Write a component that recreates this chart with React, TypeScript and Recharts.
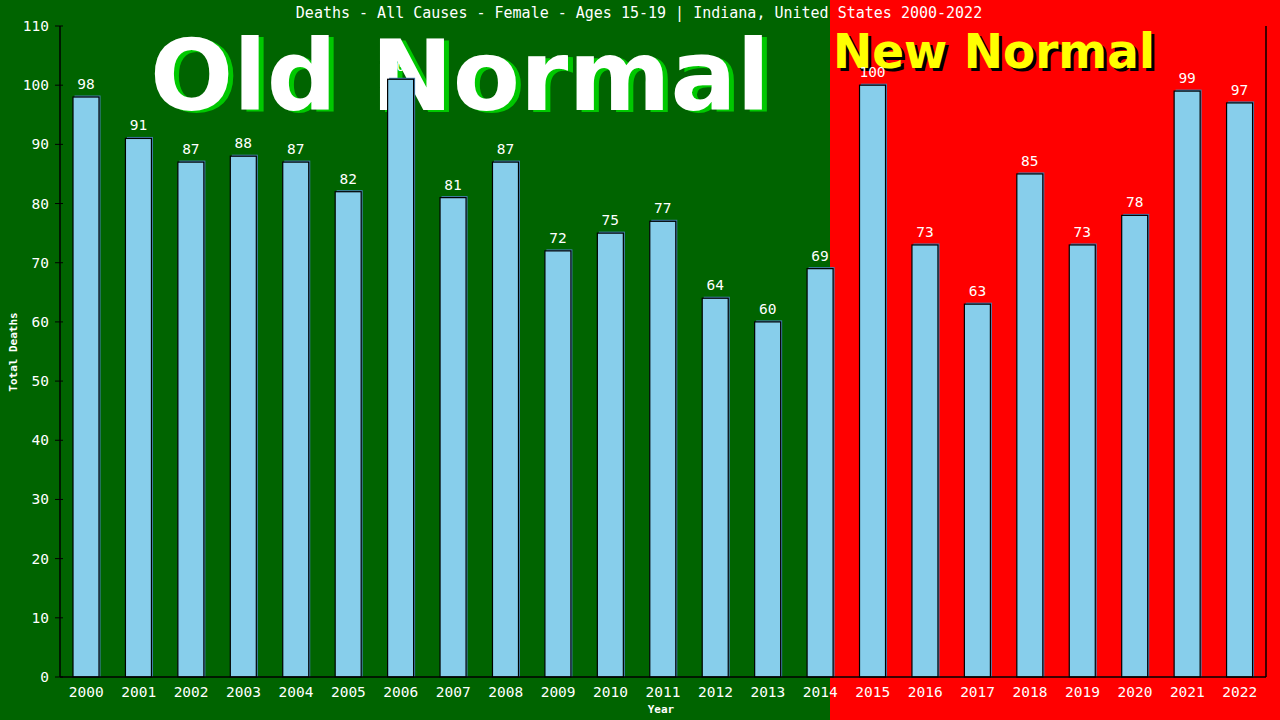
import React from "react";
import {
  BarChart,
  Bar,
  XAxis,
  YAxis,
  LabelList
} from "recharts";

const years = [
  "2000", "2001", "2002", "2003", "2004", "2005", "2006", "2007", "2008", "2009", "2010", "2011",
  "2012", "2013", "2014", "2015", "2016", "2017", "2018", "2019", "2020", "2021", "2022"
];
const deaths = [98, 91, 87, 88, 87, 82, 101, 81, 87, 72, 75, 77, 64, 60, 69, 100, 73, 63, 85, 73, 78, 99, 97];
const yTicks = [0, 10, 20, 30, 40, 50, 60, 70, 80, 90, 100, 110];

const title = "Deaths - All Causes - Female - Ages 15-19 | Indiana, United States 2000-2022";

const data = years.map((year, i) => ({ year, deaths: deaths[i] }));

const MONO = "'DejaVu Sans Mono', 'Liberation Mono', monospace";
const SANS = "'DejaVu Sans', Verdana, sans-serif";
const AXIS_X = 60;

const BarShape = (props: any) => {
  const { x, y, width, height } = props;
  if (!height || height <= 0) return null;
  return (
    <g>
      <rect x={x + 1.5} y={y - 1.5} width={width} height={height + 1.5} fill="#4682B4" />
      <rect x={x} y={y} width={width} height={height} fill="#87CEEB" stroke="#000" strokeWidth={1.2} />
    </g>
  );
};

const YTick = (props: any) => {
  const { y, payload } = props;
  return (
    <g>
      <line x1={AXIS_X - 5} x2={AXIS_X + 3} y1={y} y2={y} stroke="#000" strokeWidth={1} />
      <text x={AXIS_X - 11} y={y + 5} textAnchor="end" fill="#fff" fontSize={14.5} fontFamily={MONO}>
        {payload.value}
      </text>
    </g>
  );
};

const XTick = (props: any) => {
  const { x, y, payload } = props;
  return (
    <text x={x} y={y + 12} textAnchor="middle" fill="#fff" fontSize={14.5} fontFamily={MONO}>
      {payload.value}
    </text>
  );
};

const ValueLabel = (props: any) => {
  const { x, y, width, value } = props;
  return (
    <text x={x + width / 2} y={y - 8} textAnchor="middle" fill="#fff" fontSize={14.5} fontFamily={MONO}>
      {value}
    </text>
  );
};

export default function App() {
  return (
    <div style={{ position: "absolute", left: 0, top: 0, width: 1280, height: 720, overflow: "hidden" }}>
      <svg width={1280} height={720} style={{ position: "absolute", left: 0, top: 0 }}>
        <rect x={0} y={0} width={830} height={720} fill="#006400" />
        <rect x={830} y={0} width={450} height={720} fill="#FF0000" />
        <text x={155} y={112} fill="#00C800" fontSize={98} fontWeight="bold" fontFamily={SANS} textLength={620} lengthAdjust="spacingAndGlyphs">
          Old Normal
        </text>
        <text x={150} y={110} fill="#fff" fontSize={98} fontWeight="bold" fontFamily={SANS} textLength={620} lengthAdjust="spacingAndGlyphs">
          Old Normal
        </text>
        <text x={836} y={71} fill="#000" fontSize={48} fontWeight="bold" fontFamily={SANS} textLength={322} lengthAdjust="spacingAndGlyphs">
          New Normal
        </text>
        <text x={833} y={68} fill="#FFFF00" fontSize={48} fontWeight="bold" fontFamily={SANS} textLength={322} lengthAdjust="spacingAndGlyphs">
          New Normal
        </text>
        <text x={639} y={18} textAnchor="middle" fill="#fff" fontSize={15} fontFamily={MONO}>
          {title}
        </text>
        <text x={661} y={713} textAnchor="middle" fill="#fff" fontSize={11} fontWeight="bold" fontFamily={MONO}>
          Year
        </text>
        <text x={17} y={352} textAnchor="middle" fill="#fff" fontSize={11} fontWeight="bold" fontFamily={MONO} transform="rotate(-90 17 352)">
          Total Deaths
        </text>
      </svg>
      <div style={{ position: "absolute", left: 0, top: 0 }}>
        <BarChart width={1280} height={720} data={data} margin={{ top: 26, right: 0, bottom: 0, left: 0 }}>
          <XAxis
            dataKey="year"
            height={43}
            tickLine={false}
            axisLine={{ stroke: "#000", strokeWidth: 1.5 }}
            tick={<XTick />}
            interval={0}
          />
          <YAxis
            yAxisId="left"
            width={AXIS_X}
            domain={[0, 110]}
            ticks={yTicks}
            tickLine={false}
            axisLine={{ stroke: "#000", strokeWidth: 1.5 }}
            tick={<YTick />}
            interval={0}
          />
          <YAxis
            yAxisId="right"
            orientation="right"
            width={14}
            domain={[0, 110]}
            tick={false}
            tickLine={false}
            axisLine={{ stroke: "#000", strokeWidth: 1.5 }}
          />
          <Bar yAxisId="left" dataKey="deaths" barSize={26} shape={<BarShape />} isAnimationActive={false}>
            <LabelList dataKey="deaths" content={<ValueLabel />} />
          </Bar>
        </BarChart>
      </div>
    </div>
  );
}
